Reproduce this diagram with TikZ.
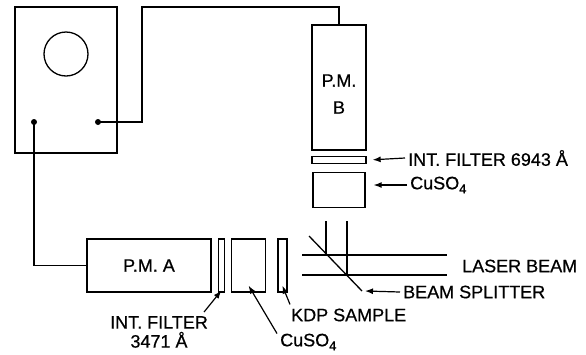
\documentclass[tikz,border=0pt]{standalone}
\usepackage{fontspec}
\setmainfont{Liberation Sans}
\usetikzlibrary{arrows.meta,positioning}
\newcommand\lblfont{\fontsize{18}{27}\selectfont\addfontfeatures{FakeBold=0.6}}
\newcommand\sbfour{\raisebox{-4pt}{\fontsize{13}{13}\selectfont\addfontfeatures{FakeBold=0.6}4}}

\begin{document}
\begin{tikzpicture}[x=1pt,y=-1pt,
  box/.style={draw, line width=1.3pt, inner sep=0pt},
  lbl/.style={inner sep=0pt, font=\lblfont, anchor=west},
  arr/.style={-{Latex[length=8pt,width=6pt]}, line width=1.2pt},
  ray/.style={line width=1.3pt}]
  \useasboundingbox (0,0) rectangle (586,354);

  \node [box, minimum width=102pt, minimum height=146pt] (scope) at (66,80) {};
  \draw [ray] (66,54) circle [radius=22pt];
  \coordinate (inA) at (34,122);
  \coordinate (inB) at (98,122);
  \fill (inA) circle [radius=3pt] (inB) circle [radius=3pt];

  \node [box, minimum width=54pt, minimum height=125pt] (pmb) at (339,87.5) {};
  \node [lbl, anchor=center, align=center] (pmbtxt) at (339,94) {P.M.\\B};
  \node [box, minimum width=54pt, minimum height=7pt, below=5pt of pmb] (fltB) {};
  \node [box, minimum width=52pt, minimum height=35pt, below=8pt of fltB] (cuB) {};

  \node [box, minimum width=124pt, minimum height=53pt] (pma) at (149,265.5) {\lblfont P.M. A};
  \node [box, minimum width=6pt, minimum height=53pt, right=6pt of pma] (fltA) {};
  \node [box, minimum width=34pt, minimum height=53pt, right=6pt of fltA] (cuA) {};
  \node [box, minimum width=9pt, minimum height=53pt, right=11pt of cuA] (kdp) {};

  \draw [ray] (inB) -| (142,7) -| (pmb.north);
  \draw [ray] (inA) |- (pma.west);

  \coordinate (bs1) at (309,236);
  \coordinate (bs2) at (362,291);
  \draw [ray] (302,255) -- (447,255);
  \draw [ray] (302,275) -- (447,275);
  \draw [ray] (326,221) -- (326,255);
  \draw [ray] (347,221) -- (347,275);
  \draw [ray] (bs1) -- (bs2);

  \node [lbl] (fltBlbl) at (408,158) {INT. FILTER 6943 Å};
  \node [lbl] (cuBlbl) at (410,185) {CuSO\sbfour};
  \node [lbl] (laser) at (462,266) {LASER BEAM};
  \node [lbl] (bslbl) at (403,292) {BEAM SPLITTER};
  \node [lbl] (kdplbl) at (291,315) {KDP SAMPLE};
  \node [lbl, anchor=center, align=center, font=\lblfont\fontsize{18}{19}\selectfont] (fltAlbl) at (159,332) {INT. FILTER\\3471 Å};
  \node [lbl] (cuAlbl) at (280,342) {CuSO\sbfour};

  \draw [arr] ([xshift=-3pt]fltBlbl.west) -- ([xshift=6pt]fltB.east);
  \draw [arr] ([xshift=-3pt]cuBlbl.west) -- ([xshift=8pt]cuB.east |- cuBlbl.west);
  \draw [arr] ([xshift=-3pt]bslbl.west) -- ([xshift=3pt]bs2);
  \draw [arr] ([shift={(-1pt,4pt)}]kdplbl.north west) -- ([yshift=7pt]kdp.south);
  \draw [arr] ([shift={(-4pt,4pt)}]fltAlbl.north east) -- ([yshift=2pt]fltA.south);
  \draw [arr] ([xshift=-3pt]cuAlbl.north west) -- ([yshift=7pt]cuA.south);
\end{tikzpicture}
\end{document}
